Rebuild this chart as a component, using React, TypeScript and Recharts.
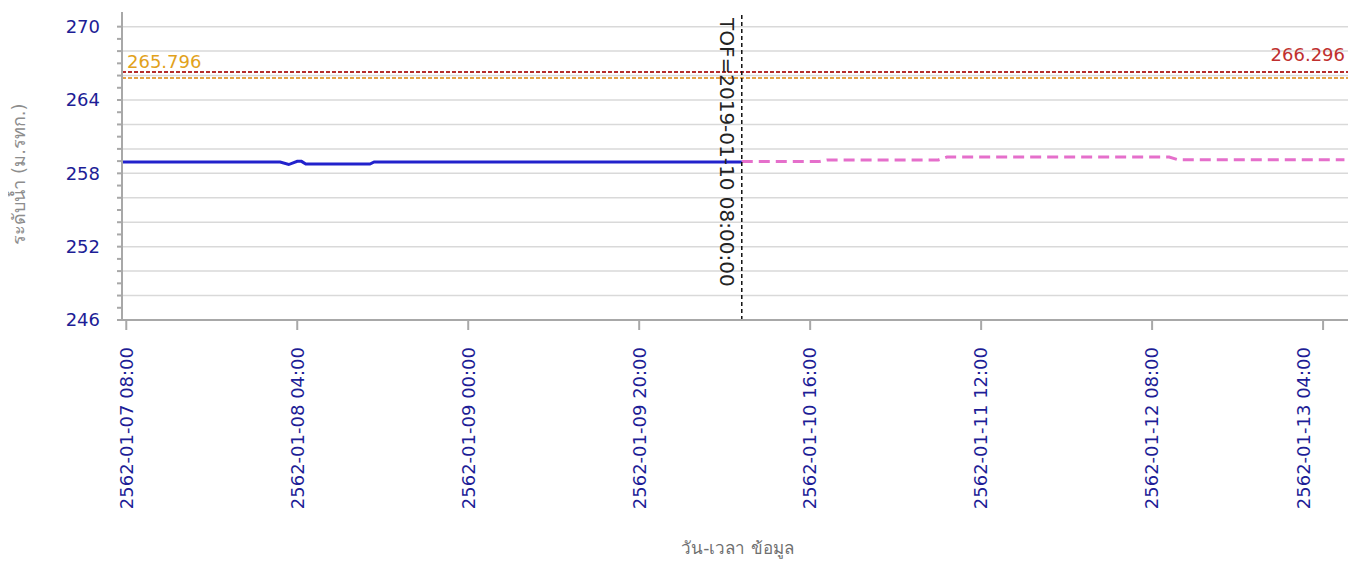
import React from "react";
import {
  CartesianGrid,
  LineChart,
  Line,
  ReferenceLine,
  XAxis,
  YAxis,
} from "recharts";

// observed water level (blue, solid) up to the time of forecast
const OBS_TIME = [
  "2019-01-07 07:30",
  "2019-01-08 02:00",
  "2019-01-08 03:00",
  "2019-01-08 04:00",
  "2019-01-08 04:30",
  "2019-01-08 05:00",
  "2019-01-08 12:30",
  "2019-01-08 13:00",
  "2019-01-10 08:00",
];
const OBS_LEVEL = [258.93, 258.93, 258.72, 258.98, 258.98, 258.76, 258.76, 258.93, 258.93];

// forecast water level (pink, dashed)
const FCST_TIME = [
  "2019-01-10 08:00",
  "2019-01-10 17:00",
  "2019-01-10 18:00",
  "2019-01-11 07:00",
  "2019-01-11 08:00",
  "2019-01-12 10:00",
  "2019-01-12 11:00",
  "2019-01-13 06:30",
];
const FCST_LEVEL = [258.96, 258.96, 259.1, 259.1, 259.33, 259.33, 259.12, 259.12];

const X_TICKS = [
  "2019-01-07 08:00",
  "2019-01-08 04:00",
  "2019-01-09 00:00",
  "2019-01-09 20:00",
  "2019-01-10 16:00",
  "2019-01-11 12:00",
  "2019-01-12 08:00",
  "2019-01-13 04:00",
];
const X_DOMAIN = ["2019-01-07 07:30", "2019-01-13 07:30"];
const TOF = "2019-01-10 08:00";
const TOF_LABEL = "TOF=2019-01-10 08:00:00";

const Y_DOMAIN = [246, 271.2];
const Y_TICKS = [
  246, 247, 248, 249, 250, 251, 252, 253, 254, 255, 256, 257, 258, 259, 260,
  261, 262, 263, 264, 265, 266, 267, 268, 269, 270,
];
const Y_LABELED = [246, 252, 258, 264, 270];
const Y_GRID = [246, 248, 250, 252, 254, 256, 258, 260, 262, 264, 266, 268, 270];

const BANK_LEVEL = 266.296;
const WARN_LEVEL = 265.796;

const toMs = (s: string) => Date.parse(s.replace(" ", "T") + ":00Z");
const fmtThai = (ms: number) => {
  const d = new Date(ms);
  const p = (n: number) => String(n).padStart(2, "0");
  return `${d.getUTCFullYear() + 543}-${p(d.getUTCMonth() + 1)}-${p(d.getUTCDate())} ${p(
    d.getUTCHours()
  )}:${p(d.getUTCMinutes())}`;
};

const obsData = OBS_TIME.map((t, i) => ({ t: toMs(t), level: OBS_LEVEL[i] }));
const fcstData = FCST_TIME.map((t, i) => ({ t: toMs(t), level: FCST_LEVEL[i] }));

const FONT = "DejaVu Sans, Verdana, sans-serif";
const TICK_BLUE = "#1d1d96";

function XTick(props: any) {
  const { x, y, payload } = props;
  return (
    <g transform={`translate(${x},${y})`}>
      <text
        transform="rotate(-90)"
        textAnchor="end"
        dy="0.35em"
        fill={TICK_BLUE}
        fontSize={18}
        fontFamily={FONT}
      >
        {fmtThai(payload.value)}
      </text>
    </g>
  );
}

function YTick(props: any) {
  const { x, y, payload } = props;
  if (!Y_LABELED.includes(payload.value)) return <g />;
  return (
    <text
      x={x}
      y={y}
      dy="0.35em"
      textAnchor="end"
      fill={TICK_BLUE}
      fontSize={18}
      fontFamily={FONT}
    >
      {payload.value}
    </text>
  );
}

export default function App() {
  return (
    <div style={{ width: 1348, height: 556, background: "#fff" }}>
      <LineChart
        width={1348}
        height={556}
        margin={{ top: 4, right: 3, bottom: 0, left: 0 }}
      >
        <CartesianGrid
          horizontal
          vertical={false}
          horizontalValues={Y_GRID}
          stroke="#d9d9d9"
          strokeWidth={1.5}
        />
        <XAxis
          dataKey="t"
          type="number"
          domain={X_DOMAIN.map(toMs)}
          ticks={X_TICKS.map(toMs)}
          allowDataOverflow
          height={244}
          stroke="#a8a8a8"
          strokeWidth={2}
          tickSize={10}
          tickMargin={17}
          tick={<XTick />}
          label={{
            content: (p: any) => {
              const vb = p.viewBox;
              return (
                <text
                  x={vb.x + vb.width / 2}
                  y={vb.y + vb.height - 10}
                  textAnchor="middle"
                  fill="#6f6f6f"
                  fontSize={17}
                  fontFamily={FONT}
                >
                  วัน-เวลา ข้อมูล
                </text>
              );
            },
          }}
        />
        <YAxis
          type="number"
          domain={Y_DOMAIN}
          ticks={Y_TICKS}
          allowDataOverflow
          interval={0}
          width={114}
          stroke="#a8a8a8"
          strokeWidth={2}
          tickSize={5}
          tickMargin={17}
          tick={<YTick />}
          label={{
            content: () => {
              const cx = 11;
              const cy = 166;
              return (
                <text
                  x={cx}
                  y={cy}
                  transform={`rotate(-90, ${cx}, ${cy})`}
                  textAnchor="middle"
                  dy="0.35em"
                  fill="#8d8d8d"
                  fontSize={18}
                  fontFamily={FONT}
                >
                  ระดับน้ำ (ม.รทก.)
                </text>
              );
            },
          }}
        />
        <ReferenceLine
          y={WARN_LEVEL}
          stroke="#e3a447"
          strokeWidth={2}
          strokeDasharray="4 2"
          label={{
            content: (p: any) => {
              const vb = p.viewBox;
              return (
                <text
                  x={vb.x + 5}
                  y={vb.y - 16}
                  dy="0.35em"
                  fill="#e2a21c"
                  fontSize={18}
                  fontFamily={FONT}
                >
                  {WARN_LEVEL.toFixed(3)}
                </text>
              );
            },
          }}
        />
        <ReferenceLine
          y={BANK_LEVEL}
          stroke="#b52c2c"
          strokeWidth={2}
          strokeDasharray="4 2"
          label={{
            content: (p: any) => {
              const vb = p.viewBox;
              return (
                <text
                  x={vb.x + vb.width - 8}
                  y={vb.y - 17}
                  dy="0.35em"
                  textAnchor="end"
                  fill="#c0302f"
                  fontSize={18}
                  fontFamily={FONT}
                >
                  {BANK_LEVEL.toFixed(3)}
                </text>
              );
            },
          }}
        />
        <Line
          data={fcstData}
          dataKey="level"
          type="linear"
          stroke="#e56fcb"
          strokeWidth={3}
          strokeDasharray="11 6"
          dot={false}
          isAnimationActive={false}
        />
        <Line
          data={obsData}
          dataKey="level"
          type="linear"
          stroke="#2222cc"
          strokeWidth={3}
          dot={false}
          isAnimationActive={false}
        />
        <ReferenceLine
          x={toMs(TOF)}
          stroke="#111"
          strokeWidth={1.5}
          strokeDasharray="4 3"
          label={{
            content: (p: any) => {
              const vb = p.viewBox;
              const lx = vb.x - 15;
              const ly = vb.y + 6;
              return (
                <text
                  x={lx}
                  y={ly}
                  transform={`rotate(90, ${lx}, ${ly})`}
                  dy="0.35em"
                  fill="#222"
                  fontSize={20}
                  fontFamily={FONT}
                >
                  {TOF_LABEL}
                </text>
              );
            },
          }}
        />
      </LineChart>
    </div>
  );
}
